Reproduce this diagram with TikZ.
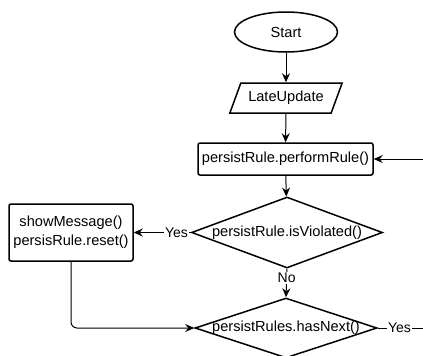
\documentclass[tikz,border=0pt]{standalone}
\usepackage{fontspec}
\setmainfont{Liberation Sans}
\usetikzlibrary{shapes.geometric,arrows.meta}
\begin{document}
\begin{tikzpicture}[x=1pt,y=-1pt,
  every node/.style={font=\fontsize{14.6}{19}\selectfont},
  shapeline/.style={draw=black,line width=1.5pt},
  startshape/.style={shapeline,ellipse,minimum width=103pt,minimum height=40pt,inner sep=0pt},
  ioshape/.style={shapeline,trapezium,trapezium left angle=56,trapezium right angle=124,trapezium stretches=true,minimum width=113pt,minimum height=30pt,inner sep=0pt},
  procshape/.style={shapeline,rectangle,rounded corners=2pt,inner sep=0pt},
  decshape/.style={shapeline,diamond,inner sep=0pt},
  conn/.style={draw=black,line width=1pt,-{Stealth[length=9pt,width=8pt,inset=3pt]}},
  plainconn/.style={draw=black,line width=1pt},
  lbl/.style={fill=white,inner sep=1pt,font=\fontsize{14}{16}\selectfont}]
\useasboundingbox (0,0) rectangle (423,356);
\node[startshape] (start) at (286,32) {Start};
\node[ioshape] (late) at (286,98) {LateUpdate};
\node[procshape,minimum width=175pt,minimum height=32pt] (perform) at (285.5,159) {persistRule.performRule()};
\node[decshape,minimum width=191pt,minimum height=71pt] (viol) at (287,232.5) {};
\node at (viol) {persistRule.isViolated()};
\node[procshape,minimum width=124pt,minimum height=57pt,align=center] (show) at (71,232.5) {showMessage()\\persisRule.reset()};
\node[decshape,minimum width=182pt,minimum height=60pt] (next) at (286,328) {};
\node at (next) {persistRules.hasNext()};
\coordinate (loopin) at (423,159);
\coordinate (loopout) at (423,328);
\coordinate (bend) at (71,328);
\draw[conn] (start) -- (late);
\draw[conn] (late) -- (perform);
\draw[conn] (loopin) -- (perform.east);
\draw[conn] (perform) -- (viol);
\draw[conn] (viol.west) -- node[lbl,pos=0.25] {Yes} (show.east);
\draw[conn] (viol.south) -- node[lbl,pos=0.33] {No} (next.north);
\draw[conn,rounded corners=6pt] (show.south) -- (bend) -- (next.west);
\draw[plainconn] (next.east) -- node[lbl,pos=0.48] {Yes} (loopout);
\end{tikzpicture}
\end{document}
